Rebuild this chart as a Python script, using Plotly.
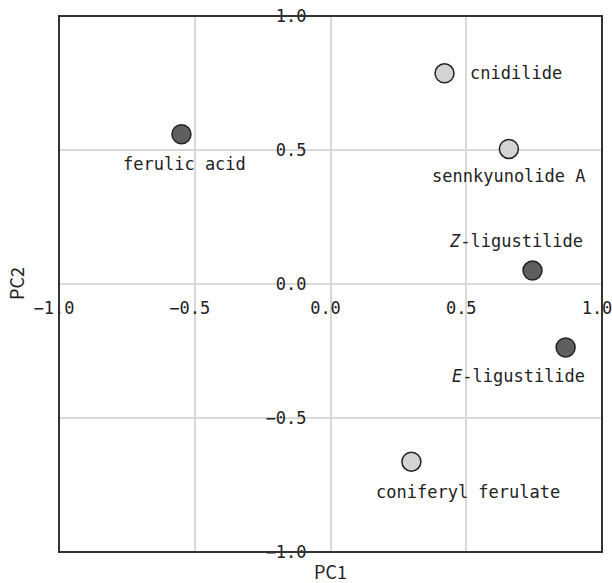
import plotly.graph_objects as go

# PCA loadings of the compounds
compounds = ["ferulic acid", "cnidilide", "sennkyunolide A",
             "<i>Z</i>-ligustilide", "<i>E</i>-ligustilide", "coniferyl ferulate"]
pc1 = [-0.549, 0.420, 0.657, 0.744, 0.866, 0.298]
pc2 = [0.559, 0.786, 0.504, 0.050, -0.237, -0.663]
group = ["dark", "light", "light", "dark", "dark", "light"]

tick_vals = [-1.0, -0.5, 0.0, 0.5, 1.0]

FILL = {"dark": "#5f5f5f", "light": "#d4d4d4"}
FONT = "DejaVu Sans Mono"

# label placement relative to each marker (pixel shifts, x anchor)
label_place = [
    (3, -30, "center"),
    (23, 0, "left"),
    (0, -27, "center"),
    (-17, 30, "center"),
    (-47, -28, "center"),
    (57, -30, "center"),
]

fig = go.Figure()
fig.add_trace(go.Scatter(
    x=pc1, y=pc2, mode="markers",
    marker=dict(size=19, color=[FILL[g] for g in group],
                line=dict(color="#222222", width=1.5)),
    hoverinfo="skip", showlegend=False,
))

for name, x, y, (dx, dy, anchor) in zip(compounds, pc1, pc2, label_place):
    fig.add_annotation(x=x, y=y, text=name, showarrow=False,
                       xshift=dx, yshift=dy, xanchor=anchor, yanchor="middle",
                       font=dict(family=FONT, size=17, color="#222222"))

axis_common = dict(
    range=[-1, 1], tickvals=tick_vals, tickformat=".1f",
    showgrid=True, gridcolor="#d9d9d9", gridwidth=1.5,
    zeroline=True, zerolinecolor="#d9d9d9", zerolinewidth=1.5,
    showline=False, ticks="", anchor="free", position=0.5,
    ticklabeloverflow="allow", automargin=False,
    tickfont=dict(family=FONT, size=17, color="#222222"),
)

fig.update_xaxes(**axis_common, ticklabelstandoff=12, ticklabelshift=-5)
fig.update_yaxes(**axis_common, ticklabelstandoff=24)

# frame around the plotting area
fig.add_shape(type="rect", xref="paper", yref="paper", x0=0, y0=0, x1=1, y1=1,
              line=dict(color="#333333", width=2), layer="above")

fig.add_annotation(xref="paper", yref="paper", x=0.5, y=0, yshift=-19,
                   text="PC1", showarrow=False, xanchor="center", yanchor="middle",
                   font=dict(family="Noto Sans CJK JP", size=18, color="#222222"))
fig.add_annotation(xref="paper", yref="paper", x=0, y=0.5, xshift=-43,
                   text="PC2", showarrow=False, textangle=-90,
                   xanchor="center", yanchor="middle",
                   font=dict(family="Noto Sans CJK JP", size=18, color="#222222"))

fig.update_layout(
    width=612, height=583,
    margin=dict(l=59, r=10, t=16, b=31, autoexpand=False),
    paper_bgcolor="white", plot_bgcolor="white",
)

fig.write_html("out.html")
